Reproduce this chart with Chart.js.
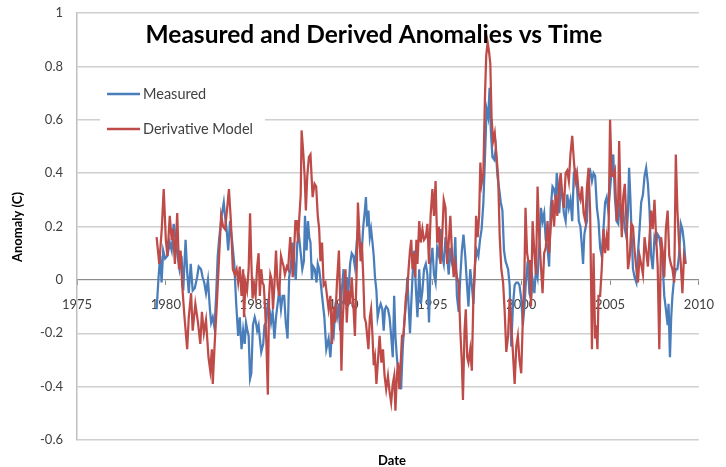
<!DOCTYPE html>
<html>
<head>
<meta charset="utf-8">
<script src="https://cdn.jsdelivr.net/npm/chart.js@4/dist/chart.umd.min.js"></script>
<style>
  html, body { margin: 0; padding: 0; background: #fff; }
  canvas { display: block; }
</style>
</head>
<body>
<canvas id="chart" width="726" height="467"></canvas>
<script>
const chartTitle = 'Measured and Derived Anomalies vs Time';
const xTitle = 'Date';
const yTitle = 'Anomaly (C)';
const seriesNames = ['Measured', 'Derivative Model'];

// Measured anomalies (decimal year, deg C)
const measuredYears = [
  1979.48,1979.59,1979.68,1979.76,1979.85,1979.96,1980.09,1980.22,1980.33,1980.44,1980.55,1980.66,1980.77,1980.88,1980.98,
  1981.11,1981.20,1981.29,1981.40,1981.51,1981.63,1981.76,1981.85,1981.98,1982.07,1982.16,1982.26,1982.37,1982.48,1982.55,
  1982.64,1982.74,1982.83,1982.92,1983.01,1983.14,1983.26,1983.33,1983.42,1983.51,1983.61,1983.74,1983.85,1983.96,1984.07,
  1984.16,1984.26,1984.35,1984.44,1984.51,1984.59,1984.66,1984.74,1984.81,1984.90,1985.00,1985.07,1985.14,1985.22,1985.29,
  1985.37,1985.48,1985.55,1985.64,1985.74,1985.83,1985.92,1986.01,1986.11,1986.20,1986.29,1986.38,1986.48,1986.57,1986.66,
  1986.75,1986.85,1986.94,1987.03,1987.13,1987.22,1987.31,1987.40,1987.50,1987.59,1987.68,1987.77,1987.83,1987.92,1988.00,
  1988.07,1988.14,1988.22,1988.29,1988.38,1988.48,1988.55,1988.63,1988.70,1988.79,1988.92,1989.03,1989.16,1989.26,1989.35,
  1989.44,1989.53,1989.63,1989.72,1989.81,1989.90,1990.00,1990.09,1990.18,1990.27,1990.37,1990.46,1990.55,1990.64,1990.74,
  1990.83,1990.92,1991.01,1991.11,1991.20,1991.26,1991.33,1991.40,1991.48,1991.55,1991.63,1991.70,1991.77,1991.85,1991.92,
  1992.00,1992.09,1992.18,1992.26,1992.33,1992.40,1992.50,1992.59,1992.68,1992.77,1992.85,1992.92,1993.00,1993.07,1993.14,
  1993.24,1993.33,1993.42,1993.51,1993.59,1993.66,1993.74,1993.81,1993.88,1993.98,1994.07,1994.16,1994.26,1994.35,1994.44,
  1994.53,1994.63,1994.72,1994.81,1994.90,1995.00,1995.09,1995.18,1995.27,1995.37,1995.46,1995.55,1995.64,1995.74,1995.83,
  1995.92,1996.01,1996.11,1996.20,1996.29,1996.38,1996.48,1996.57,1996.66,1996.75,1996.85,1996.94,1997.03,1997.13,1997.22,
  1997.31,1997.40,1997.50,1997.59,1997.68,1997.77,1997.87,1997.96,1998.05,1998.14,1998.22,1998.29,1998.38,1998.48,1998.57,
  1998.66,1998.76,1998.85,1998.94,1999.03,1999.12,1999.26,1999.35,1999.44,1999.53,1999.63,1999.72,1999.81,1999.90,2000.00,
  2000.09,2000.18,2000.27,2000.37,2000.46,2000.55,2000.64,2000.74,2000.83,2000.92,2001.01,2001.11,2001.20,2001.29,2001.38,
  2001.48,2001.57,2001.66,2001.76,2001.85,2001.94,2002.00,2002.07,2002.14,2002.22,2002.31,2002.40,2002.50,2002.59,2002.68,
  2002.77,2002.87,2002.96,2003.05,2003.14,2003.24,2003.33,2003.42,2003.48,2003.55,2003.63,2003.70,2003.79,2003.88,2003.98,
  2004.07,2004.16,2004.26,2004.35,2004.44,2004.53,2004.63,2004.72,2004.81,2004.90,2005.00,2005.09,2005.18,2005.27,2005.37,
  2005.46,2005.55,2005.64,2005.74,2005.83,2005.92,2006.01,2006.07,2006.14,2006.22,2006.29,2006.38,2006.48,2006.57,2006.66,
  2006.75,2006.85,2006.94,2007.03,2007.13,2007.22,2007.31,2007.40,2007.50,2007.59,2007.68,2007.77,2007.87,2007.96,2008.05,
  2008.14,2008.24,2008.29,2008.37,2008.44,2008.51,2008.61,2008.70,2008.79,2008.88,2008.98,2009.07,2009.16,2009.25
];
const measuredValues = [
  -0.11,0.01,0.09,-0.01,0.11,0.08,0.09,0.14,0.11,0.21,0.15,0.09,0.04,0.09,-0.04,
  0.15,0.03,-0.05,0.06,-0.04,-0.03,0.01,0.05,0.04,0.01,-0.01,-0.05,0.00,-0.11,-0.16,
  -0.14,-0.18,-0.06,0.09,0.16,0.24,0.29,0.24,0.19,0.11,0.22,0.14,0.06,-0.09,-0.21,
  -0.14,-0.26,-0.19,-0.24,-0.16,-0.19,-0.21,-0.37,-0.35,-0.17,-0.14,-0.16,-0.19,-0.17,-0.22,
  -0.27,-0.24,-0.17,-0.16,-0.09,-0.11,-0.16,-0.12,-0.22,-0.14,-0.09,-0.04,-0.11,-0.06,-0.06,
  -0.16,-0.22,0.01,0.05,0.14,0.06,0.00,0.14,0.16,0.10,0.04,0.07,0.24,0.11,0.22,
  0.16,0.14,0.00,0.05,0.04,-0.01,0.06,0.04,0.00,-0.06,-0.14,-0.26,-0.22,-0.29,-0.19,
  -0.21,-0.11,-0.14,-0.09,-0.19,-0.04,0.04,-0.09,0.01,-0.05,0.06,0.10,0.09,0.05,0.14,
  0.20,0.12,0.09,0.20,0.26,0.31,0.20,0.26,0.16,0.19,0.14,0.09,0.01,-0.04,-0.14,
  -0.11,-0.09,-0.11,-0.19,-0.11,-0.10,-0.11,-0.14,-0.21,-0.29,-0.06,-0.21,-0.29,-0.34,-0.36,
  -0.41,-0.26,-0.16,-0.09,0.01,-0.09,-0.20,-0.09,0.01,0.11,-0.03,-0.14,0.04,-0.09,-0.04,
  0.04,0.06,0.02,-0.16,0.06,0.12,0.02,-0.01,0.12,0.09,0.19,0.09,0.06,0.16,0.09,
  0.02,0.12,0.06,0.04,0.16,-0.06,-0.12,0.01,0.11,0.17,0.09,-0.01,-0.10,0.04,-0.02,
  -0.09,0.06,0.11,0.09,0.15,0.19,0.29,0.46,0.64,0.61,0.72,0.56,0.46,0.45,0.49,
  0.39,0.34,0.29,0.26,0.11,0.07,0.04,-0.02,-0.25,-0.10,-0.02,-0.01,-0.01,-0.02,-0.07,
  -0.17,-0.10,0.00,0.07,-0.05,-0.07,0.00,-0.05,0.04,0.01,0.12,0.27,0.22,0.25,0.15,
  0.12,0.05,0.27,0.35,0.34,0.30,0.40,0.35,0.25,0.35,0.32,0.25,0.22,0.32,0.27,
  0.30,0.22,0.40,0.41,0.35,0.22,0.20,0.12,0.06,0.17,0.20,0.22,0.40,0.41,0.37,
  0.40,0.39,0.27,0.22,0.12,0.09,0.19,0.29,0.31,0.26,0.34,0.41,0.47,0.31,0.22,
  0.21,0.29,0.24,0.26,0.19,0.16,0.26,0.42,0.31,0.16,0.04,0.01,-0.01,0.10,0.19,
  0.29,0.32,0.39,0.42,0.36,0.26,0.09,0.04,0.16,0.14,0.17,0.16,0.11,0.06,-0.06,
  -0.11,-0.17,-0.09,-0.29,-0.14,-0.06,0.01,0.04,0.04,0.09,0.21,0.19,0.14,0.06
];

// Derivative model anomalies (decimal year, deg C)
const modelYears = [
  1979.48,1979.63,1979.77,1979.88,1980.00,1980.09,1980.22,1980.33,1980.40,1980.51,1980.64,1980.74,1980.83,1980.92,1981.05,
  1981.20,1981.29,1981.42,1981.51,1981.66,1981.81,1981.94,1982.03,1982.14,1982.26,1982.40,1982.50,1982.59,1982.64,1982.74,
  1982.87,1983.00,1983.11,1983.22,1983.33,1983.44,1983.55,1983.66,1983.77,1983.88,1983.98,1984.07,1984.16,1984.26,1984.35,
  1984.40,1984.48,1984.57,1984.66,1984.74,1984.81,1984.88,1984.96,1985.05,1985.14,1985.22,1985.29,1985.37,1985.44,1985.51,
  1985.59,1985.66,1985.74,1985.81,1985.88,1985.96,1986.03,1986.11,1986.20,1986.29,1986.38,1986.48,1986.55,1986.63,1986.70,
  1986.81,1986.88,1987.00,1987.07,1987.14,1987.22,1987.29,1987.37,1987.44,1987.50,1987.59,1987.64,1987.74,1987.81,1987.88,
  1987.96,1988.05,1988.14,1988.26,1988.37,1988.46,1988.55,1988.63,1988.70,1988.79,1988.88,1988.98,1989.07,1989.16,1989.26,
  1989.35,1989.44,1989.53,1989.63,1989.74,1989.81,1989.88,1989.96,1990.03,1990.11,1990.18,1990.27,1990.37,1990.46,1990.55,
  1990.64,1990.74,1990.81,1990.88,1990.96,1991.03,1991.11,1991.18,1991.26,1991.33,1991.40,1991.48,1991.55,1991.63,1991.70,
  1991.77,1991.85,1991.94,1992.03,1992.13,1992.22,1992.31,1992.40,1992.50,1992.59,1992.68,1992.77,1992.85,1992.92,1993.00,
  1993.07,1993.14,1993.22,1993.29,1993.37,1993.44,1993.51,1993.59,1993.66,1993.74,1993.81,1993.88,1993.96,1994.03,1994.10,
  1994.16,1994.26,1994.35,1994.44,1994.53,1994.63,1994.72,1994.81,1994.90,1995.00,1995.09,1995.18,1995.27,1995.37,1995.46,
  1995.55,1995.64,1995.74,1995.83,1995.92,1996.01,1996.11,1996.20,1996.29,1996.38,1996.48,1996.57,1996.66,1996.72,1996.81,
  1996.88,1996.96,1997.03,1997.13,1997.22,1997.31,1997.40,1997.46,1997.55,1997.63,1997.70,1997.77,1997.87,1997.96,1998.03,
  1998.11,1998.18,1998.26,1998.33,1998.42,1998.51,1998.61,1998.70,1998.79,1998.88,1998.98,1999.07,1999.16,1999.26,1999.35,
  1999.44,1999.53,1999.63,1999.72,1999.81,1999.90,2000.00,2000.09,2000.18,2000.24,2000.33,2000.40,2000.48,2000.55,2000.64,
  2000.74,2000.83,2000.92,2001.01,2001.11,2001.20,2001.29,2001.38,2001.48,2001.57,2001.66,2001.76,2001.85,2001.94,2002.03,
  2002.13,2002.22,2002.31,2002.40,2002.50,2002.59,2002.68,2002.77,2002.87,2002.96,2003.05,2003.14,2003.24,2003.33,2003.42,
  2003.51,2003.61,2003.70,2003.79,2003.88,2003.98,2004.07,2004.16,2004.22,2004.29,2004.35,2004.44,2004.53,2004.63,2004.72,
  2004.81,2004.90,2005.00,2005.09,2005.18,2005.27,2005.37,2005.46,2005.51,2005.59,2005.66,2005.74,2005.83,2005.92,2006.01,
  2006.11,2006.20,2006.29,2006.38,2006.48,2006.57,2006.66,2006.75,2006.85,2006.94,2007.03,2007.13,2007.22,2007.31,2007.40,
  2007.50,2007.59,2007.68,2007.77,2007.87,2007.96,2008.05,2008.14,2008.24,2008.33,2008.42,2008.51,2008.61,2008.70,2008.79,
  2008.88,2008.98,2009.07,2009.16,2009.25
];
const modelValues = [
  0.16,0.06,0.19,0.34,0.15,0.09,0.24,0.15,0.19,0.06,0.25,0.04,0.11,-0.02,-0.14,
  -0.26,-0.14,-0.05,-0.19,-0.09,-0.16,-0.24,-0.12,-0.20,-0.15,-0.29,-0.34,-0.26,-0.39,-0.25,
  -0.09,0.09,0.24,0.20,0.19,0.26,0.34,0.22,0.04,0.02,0.04,-0.01,0.05,-0.06,0.04,
  -0.14,-0.01,-0.04,0.04,0.25,0.07,-0.07,-0.02,-0.06,0.05,0.10,-0.06,0.04,-0.01,-0.02,
  -0.11,-0.24,-0.43,-0.06,0.02,0.00,-0.11,-0.02,0.11,-0.02,-0.06,0.09,0.07,0.05,0.02,
  0.05,0.04,0.16,0.10,0.01,0.11,0.22,0.22,0.14,0.22,0.32,0.56,0.47,0.39,0.26,
  0.39,0.46,0.47,0.31,0.36,0.35,0.24,0.19,0.07,0.14,-0.02,-0.01,-0.06,-0.11,-0.06,
  -0.24,-0.10,-0.16,-0.01,0.11,-0.07,-0.34,-0.14,-0.06,0.04,-0.16,-0.04,-0.09,0.01,-0.09,
  -0.21,0.04,0.29,0.19,0.07,0.14,0.01,-0.14,-0.16,-0.21,-0.26,-0.14,-0.11,-0.21,-0.32,
  -0.29,-0.39,-0.30,-0.21,-0.31,-0.26,-0.36,-0.41,-0.36,-0.42,-0.46,-0.39,-0.36,-0.49,-0.36,
  -0.31,-0.41,-0.31,-0.21,-0.21,-0.14,-0.06,-0.04,0.04,0.11,0.15,0.04,0.10,0.01,0.15,
  0.06,0.22,0.14,0.19,0.15,0.16,0.21,0.06,0.24,0.34,0.24,0.37,0.14,0.20,0.06,
  0.16,0.30,0.27,0.06,0.14,0.24,0.09,0.01,0.06,0.01,-0.01,-0.19,-0.31,-0.45,-0.19,
  -0.11,-0.29,-0.31,-0.26,-0.34,-0.06,0.06,0.24,0.16,0.24,0.44,0.36,0.40,0.69,0.84,
  0.89,0.86,0.81,0.61,0.52,0.55,0.46,0.39,0.16,0.04,-0.01,-0.12,-0.27,-0.21,-0.07,
  -0.17,-0.27,-0.39,-0.25,-0.21,-0.30,-0.35,-0.15,0.02,0.27,0.10,0.07,0.07,-0.10,0.22,
  0.10,0.02,0.35,0.17,0.05,-0.05,0.10,0.12,0.22,0.10,0.20,0.30,0.20,0.32,0.24,
  0.35,0.40,0.32,0.27,0.40,0.41,0.37,0.47,0.54,0.45,0.37,0.40,0.32,0.30,0.35,
  0.25,0.22,0.35,0.42,0.25,-0.26,0.10,-0.22,-0.17,-0.26,-0.06,-0.06,0.04,0.19,0.10,
  0.16,0.11,0.60,0.39,0.39,0.41,0.22,0.30,0.52,0.29,0.16,0.31,0.36,0.22,0.04,
  0.09,0.21,0.20,0.11,0.04,-0.01,0.09,0.06,0.02,0.16,0.11,0.05,0.16,0.26,0.19,
  0.30,0.16,0.05,-0.26,0.16,0.11,0.01,0.19,0.26,0.09,0.06,0.04,-0.01,0.47,0.26,
  0.14,0.06,-0.05,0.09,0.06
];

const blue = '#4A7EBB';
const red = '#BE4B48';
const fontFamily = 'Lato, "Open Sans", sans-serif';

function toPoints(xs, ys) {
  return xs.map((x, i) => ({ x: x, y: ys[i] }));
}

// title, legend and axis titles sit inside / around the plot like in Excel
const overlay = {
  id: 'overlay',
  afterDraw(chart) {
    const { ctx } = chart;
    ctx.save();
    ctx.fillStyle = '#000';
    ctx.textAlign = 'center';
    ctx.textBaseline = 'middle';
    ctx.font = 'bold 24.5px ' + fontFamily;
    ctx.fillText(chartTitle, 374, 35);

    // legend box
    ctx.fillStyle = '#fff';
    ctx.fillRect(100, 80, 165, 62);
    const items = [[seriesNames[0], blue, 94], [seriesNames[1], red, 129]];
    items.forEach(([name, color, y]) => {
      ctx.strokeStyle = color;
      ctx.lineWidth = 2.5;
      ctx.beginPath();
      ctx.moveTo(107, y);
      ctx.lineTo(140, y);
      ctx.stroke();
      ctx.fillStyle = '#404040';
      ctx.font = '14.5px ' + fontFamily;
      ctx.textAlign = 'left';
      ctx.fillText(name, 143, y);
    });

    // axis titles
    ctx.fillStyle = '#000';
    ctx.font = 'bold 13px ' + fontFamily;
    ctx.textAlign = 'center';
    ctx.fillText(xTitle, 392, 461);
    ctx.translate(18, 227);
    ctx.rotate(-Math.PI / 2);
    ctx.fillText(yTitle, 0, 0);
    ctx.restore();
  }
};

new Chart(document.getElementById('chart'), {
  type: 'scatter',
  data: {
    datasets: [
      {
        label: seriesNames[1],
        data: toPoints(modelYears, modelValues),
        showLine: true,
        borderColor: red,
        backgroundColor: red,
        borderWidth: 2.25,
        pointRadius: 0,
        order: 1
      },
      {
        label: seriesNames[0],
        data: toPoints(measuredYears, measuredValues),
        showLine: true,
        borderColor: blue,
        backgroundColor: blue,
        borderWidth: 2.25,
        pointRadius: 0,
        order: 2
      }
    ]
  },
  options: {
    responsive: false,
    animation: false,
    layout: { padding: { top: 13, right: 19, bottom: 27, left: 0 } },
    plugins: {
      legend: { display: false },
      title: { display: false },
      tooltip: { enabled: false }
    },
    scales: {
      x: {
        type: 'linear',
        position: { y: 0 },
        min: 1975,
        max: 2010,
        ticks: {
          stepSize: 5,
          padding: 12,
          maxRotation: 0,
          color: '#404040',
          font: { family: fontFamily, size: 13 },
          callback: v => String(v)
        },
        grid: { drawOnChartArea: false, tickLength: 5, color: '#8c8c8c' },
        border: { color: '#8c8c8c', width: 1 }
      },
      y: {
        min: -0.6,
        max: 1,
        ticks: {
          stepSize: 0.2,
          padding: 14,
          color: '#404040',
          font: { family: fontFamily, size: 13 },
          callback: v => String(Math.round(v * 10) / 10)
        },
        grid: { color: '#cfcfcf', lineWidth: 1.5, drawTicks: false },
        border: { color: '#bfbfbf', width: 1.5 },
        afterFit(scale) {
          scale.width = 77;
          scale.paddingTop = 0;
          scale.paddingBottom = 0;
        }
      }
    }
  },
  plugins: [overlay]
});
</script>
</body>
</html>
